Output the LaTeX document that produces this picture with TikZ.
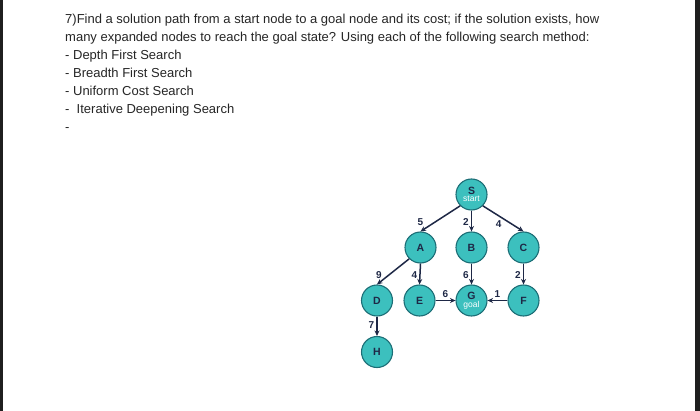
\documentclass[tikz,border=0pt]{standalone}
\usepackage{fontspec}
\setmainfont{Liberation Sans}
\newfontfamily\qfont{Liberation Sans}
\usetikzlibrary{arrows.meta}
\definecolor{tealfill}{RGB}{60,192,190}
\definecolor{tealline}{RGB}{28,110,118}
\definecolor{navy}{RGB}{30,40,70}
\newcommand{\subtxt}[1]{{\fontsize{8.5}{9}\selectfont\mdseries\color{white}#1}}
\begin{document}
\begin{tikzpicture}[x=1pt,y=-1pt,
  st/.style={circle, draw=tealline, line width=1.1pt, fill=tealfill, minimum size=31pt, inner sep=0pt, align=center, font=\fontsize{10.5}{11}\selectfont\bfseries, text=navy},
  edge/.style={draw=navy, line width=1.5pt, -{Stealth[length=5.5pt,width=5pt]}},
  lbl/.style={font=\fontsize{10}{11}\selectfont\bfseries, text=navy, inner sep=1pt},
  qt/.style={anchor=base west, inner sep=0pt, font=\qfont\fontsize{13}{14}\selectfont, text=black!85}]
\useasboundingbox (0,0) rectangle (700,411);
\fill[white] (0,0) rectangle (700,411);
\fill[black!88] (0,0) rectangle (3.3,411);
\fill[black!88] (694.7,0) rectangle (700,411);
% question text
\node[qt] (q1) at (65,24) {7)Find a solution path from a start node to a goal node and its cost; if the solution exists, how};
\node[qt] (q2) at (65,42) {many expanded nodes to reach the goal state? Using each of the following search method:};
\node[qt] (q3) at (65,60) {- Depth First Search};
\node[qt] (q4) at (65,78) {- Breadth First Search};
\node[qt] (q5) at (65,96) {- Uniform Cost Search};
\node[qt] (q6) at (65,114) {-\ \ Iterative Deepening Search};
\node[qt] (q7) at (65,132) {-};
% graph nodes
\node[st] (S) at (471.5,194.5) {S\\[-3.5pt]\subtxt{start}};
\node[st] (A) at (420.5,247.5) {A};
\node[st] (B) at (471.5,247.5) {B};
\node[st] (C) at (523.5,247.5) {C};
\node[st] (D) at (377,300.5) {D};
\node[st] (E) at (419.5,300.5) {E};
\node[st] (G) at (471.5,300.5) {G\\[-3.5pt]\subtxt{goal}};
\node[st] (F) at (523.5,300.5) {F};
\node[st] (H) at (377,352) {H};
% edges
\draw[edge] (S.-135) -- node[lbl, pos=1, above=4pt] {5} (A.north);
\draw[edge] (S.south) -- node[lbl, pos=0.55, left=1pt] {2} (B.north);
\draw[edge] (S.-45) -- node[lbl, pos=0.5, below left=0pt] {4} (C.north);
\draw[edge] (A.-135) -- node[lbl, pos=1, above=4pt, xshift=2pt] {9} (D.north);
\draw[edge] (A.south) -- node[lbl, pos=0.55, left=1pt] {4} (E.north);
\draw[edge] (B.south) -- node[lbl, pos=0.55, left=1pt] {6} (G.north);
\draw[edge] (C.south) -- node[lbl, pos=0.55, left=1pt] {2} (F.north);
\draw[edge] (E.east) -- node[lbl, pos=0.5, above=1pt] {6} (G.west);
\draw[edge] (F.west) -- node[lbl, pos=0.5, above=1pt] {1} (G.east);
\draw[edge] (D.south) -- node[lbl, pos=0.45, left=1pt] {7} (H.north);
\end{tikzpicture}
\end{document}
